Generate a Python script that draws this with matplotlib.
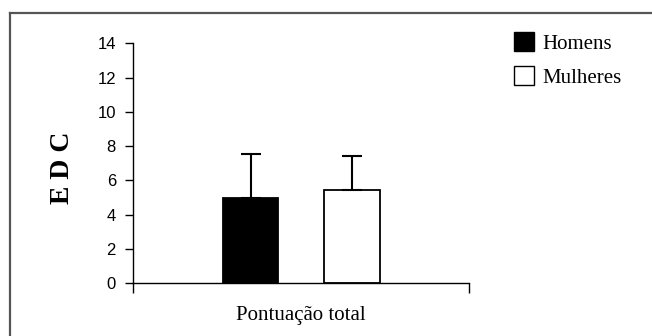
import matplotlib
matplotlib.use("Agg")
import matplotlib.pyplot as plt
from matplotlib.lines import Line2D
from matplotlib.patches import Patch

grupos = ["Homens", "Mulheres"]
medias = [4.96, 5.42]
erro_sup = [2.57, 2.01]
cores = ["black", "white"]
categoria = "Pontuação total"
yticks = [0, 2, 4, 6, 8, 10, 12, 14]

fig = plt.figure(figsize=(6.52, 3.36), dpi=100)
ax = fig.add_axes([133/652, 1-283.3/336, 336/652, 240/336])

xpos = [0.35, 0.652]
ax.bar(xpos, medias, width=0.166, color=cores, edgecolor="black", linewidth=1.3,
       yerr=[[0, 0], erro_sup], capsize=7.5,
       error_kw=dict(elinewidth=1.5, capthick=1.5, ecolor="black"))

ax.set_xlim(0, 1)
ax.set_ylim(0, 14)
ax.set_yticks(yticks)
ax.set_xticks([0, 1])
ax.set_xticklabels([])
ax.tick_params(axis="x", length=7.5, width=1, direction="out")
ax.tick_params(axis="y", length=5.8, width=1, pad=6.5, labelsize=12)
for lab in ax.get_yticklabels():
    lab.set_family("Liberation Sans")
for s in ["top", "right"]:
    ax.spines[s].set_visible(False)
for s in ["left", "bottom"]:
    ax.spines[s].set_linewidth(1)

ax.set_xlabel(categoria, family="Liberation Serif", fontsize=15, labelpad=5)
ax.set_ylabel("E D C", family="Liberation Serif", fontsize=20, fontweight="bold")
ax.yaxis.set_label_coords(-0.174, 0.48)

handles = [Patch(facecolor=c, edgecolor="black", linewidth=1) for c in cores]
fig.legend(handles, grupos, loc="upper left", bbox_to_anchor=(513.5/652, 1-32.5/336),
           frameon=False, prop=dict(family="Liberation Serif", size=15),
           handlelength=1.0, handleheight=1.0, handletextpad=0.4,
           labelspacing=0.6, borderpad=0, borderaxespad=0)

# moldura da figura (só topo e esquerda visíveis)
fig.add_artist(Line2D([10/652, 1.01], [1-12.5/336]*2, color="#555555", linewidth=1.6))
fig.add_artist(Line2D([10/652]*2, [-0.01, 1-12.5/336], color="#555555", linewidth=1.6))

plt.savefig("out.png", dpi=100)
